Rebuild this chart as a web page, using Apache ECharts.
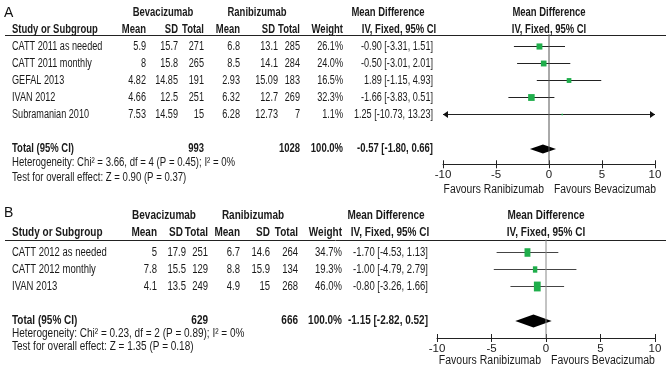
<!DOCTYPE html>
<html>
<head>
<meta charset="UTF-8">
<title>Forest plot</title>
<script src="https://cdn.jsdelivr.net/npm/echarts@6/dist/echarts.min.js"></script>
<style>
  html, body { margin: 0; padding: 0; background: #fff; }
  #main { width: 666px; height: 375px; }
</style>
</head>
<body>
<div id="main"></div>
<script>
// ---- panel A data ----
var studiesA = ['CATT 2011 as needed', 'CATT 2011 monthly', 'GEFAL 2013', 'IVAN 2012', 'Subramanian 2010'];
var bevMeanA = [5.9, 8, 4.82, 4.66, 7.53];
var bevSdA = [15.7, 15.8, 14.85, 12.5, 14.59];
var bevNA = [271, 265, 191, 251, 15];
var raniMeanA = [6.8, 8.5, 2.93, 6.32, 6.28];
var raniSdA = [13.1, 14.1, 15.09, 12.7, 12.73];
var raniNA = [285, 284, 183, 269, 7];
var weightA = [26.1, 24.0, 16.5, 32.3, 1.1];
var mdA = [-0.90, -0.50, 1.89, -1.66, 1.25];
var loA = [-3.31, -3.01, -1.15, -3.83, -10.73];
var hiA = [1.51, 2.01, 4.93, 0.51, 13.23];
var totalA = [993, 1028, -0.57, -1.80, 0.66]; // bev N, rani N, md, lo, hi
var hetA = [3.66, 4, 0.45, 0];   // chi2, df, P, I2
var testA = [0.90, 0.37];        // Z, P

// ---- panel B data ----
var studiesB = ['CATT 2012 as needed', 'CATT 2012 monthly', 'IVAN 2013'];
var bevMeanB = [5, 7.8, 4.1];
var bevSdB = [17.9, 15.5, 13.5];
var bevNB = [251, 129, 249];
var raniMeanB = [6.7, 8.8, 4.9];
var raniSdB = [14.6, 15.9, 15];
var raniNB = [264, 134, 268];
var weightB = [34.7, 19.3, 46.0];
var mdB = [-1.70, -1.00, -0.80];
var loB = [-4.53, -4.79, -3.26];
var hiB = [1.13, 2.79, 1.66];
var totalB = [629, 666, -1.15, -2.82, 0.52];
var hetB = [0.23, 2, 0.89, 0];
var testB = [1.35, 0.18];

var xTicks = [-10, 10, 5]; // min, max, interval

// no narrow font installed, so squeeze Liberation Sans horizontally
var FONT = '"Liberation Sans", Arial, sans-serif';
var GREEN = '#1fae4b';

var panels = [
  {
    letter: 'A', studies: studiesA, bevMean: bevMeanA, bevSd: bevSdA, bevN: bevNA,
    raniMean: raniMeanA, raniSd: raniSdA, raniN: raniNA, weight: weightA,
    md: mdA, lo: loA, hi: hiA, total: totalA, het: hetA, test: testA,
    g: { letterY: 13, h1: 13, h2: 30, lineY: 35, row0: 47, step: 17, totRow: 6,
         hetY: 163, testY: 178, favY: 190, left: 443, width: 212, yMin: -0.75, yMax: 6.9,
         fs: 12, sc: 0.76, bsc: 0.79, fsc: 0.86, sq: [1.15, 1.2], dh: 4.5,
         lineColor: '#222', zeroColor: '#555',
         cols: { bm: 146, bs: 178, bn: 204, rm: 240, rs: 278, rn: 300, w: 343, md: 433,
                 hbs: 178, hrs: 275, bev: 163, rani: 257, mdh: 388, ivh: 399 } }
  },
  {
    letter: 'B', studies: studiesB, bevMean: bevMeanB, bevSd: bevSdB, bevN: bevNB,
    raniMean: raniMeanB, raniSd: raniSdB, raniN: raniNB, weight: weightB,
    md: mdB, lo: loB, hi: hiB, total: totalB, het: hetB, test: testB,
    g: { letterY: 213, h1: 216, h2: 233, lineY: 240, row0: 253, step: 17, totRow: 4,
         hetY: 334, testY: 347, favY: 361, left: 437, width: 218, yMin: -0.8, yMax: 5.0,
         fs: 12.5, sc: 0.76, bsc: 0.8, fsc: 0.84, sq: [1.0, 1.45], dh: 6.5,
         lineColor: '#444', zeroColor: '#888',
         cols: { bm: 157, bs: 186, bn: 208, rm: 240, rs: 270, rn: 298, w: 342, md: 428,
                 hbs: 183, hrs: 270, bev: 164, rani: 253, mdh: 386, ivh: 390 } }
  }
];

function txt(s, x, y, size, align, bold, scale) {
  return {
    type: 'text', x: x, y: y, scaleX: scale, silent: true,
    style: {
      text: s, fill: '#1a1a1a', textAlign: align, align: align,
      textVerticalAlign: 'middle', verticalAlign: 'middle',
      font: (bold ? 'bold ' : '') + size + 'px ' + FONT
    }
  };
}
function f2(v) { return v.toFixed(2); }
function ci(m, l, h) { return f2(m) + ' [' + f2(l) + ', ' + f2(h) + ']'; }

var graphics = [];
var grids = [], xAxes = [], yAxes = [], series = [];

panels.forEach(function (p, k) {
  var g = p.g, c = g.cols;
  var zeroX = g.left + g.width / 2;
  function body(s, x, y, align) { graphics.push(txt(s, x, y, g.fs, align, false, g.sc)); }
  function head(s, x, y, align) { graphics.push(txt(s, x, y, g.fs, align, true, g.bsc)); }

  graphics.push({ type: 'text', x: 4, y: g.letterY, silent: true,
    style: { text: p.letter, fill: '#111', font: '14px ' + FONT,
             textVerticalAlign: 'middle', verticalAlign: 'middle' } });
  // header row 1
  head('Bevacizumab', c.bev, g.h1, 'center');
  head('Ranibizumab', c.rani, g.h1, 'center');
  head('Mean Difference', c.mdh, g.h1, 'center');
  head('Mean Difference', zeroX, g.h1, 'center');
  // header row 2
  head('Study or Subgroup', 12, g.h2, 'left');
  [['Mean', c.bm], ['SD', c.hbs], ['Total', c.bn], ['Mean', c.rm], ['SD', c.hrs], ['Total', c.rn], ['Weight', c.w]]
    .forEach(function (h) { head(h[0], h[1], g.h2, 'right'); });
  head('IV, Fixed, 95% CI', c.ivh, g.h2, 'center');
  head('IV, Fixed, 95% CI', zeroX, g.h2, 'center');
  graphics.push({ type: 'line', silent: true,
    shape: { x1: 5, y1: g.lineY + 0.5, x2: 666, y2: g.lineY + 0.5 },
    style: { stroke: '#222', lineWidth: 1 } });

  // study rows
  var rows = [];
  p.studies.forEach(function (s, i) {
    var y = g.row0 + i * g.step;
    body(s, 12, y, 'left');
    body(String(p.bevMean[i]), c.bm, y, 'right');
    body(String(p.bevSd[i]), c.bs, y, 'right');
    body(String(p.bevN[i]), c.bn, y, 'right');
    body(String(p.raniMean[i]), c.rm, y, 'right');
    body(String(p.raniSd[i]), c.rs, y, 'right');
    body(String(p.raniN[i]), c.rn, y, 'right');
    body(p.weight[i].toFixed(1) + '%', c.w, y, 'right');
    body(ci(p.md[i], p.lo[i], p.hi[i]), c.md, y, 'right');
    rows.push([p.md[i], i, p.lo[i], p.hi[i], p.weight[i]]);
  });
  // total row and footer
  var ty = g.row0 + g.totRow * g.step;
  head('Total (95% CI)', 12, ty, 'left');
  head(String(p.total[0]), c.bn, ty, 'right');
  head(String(p.total[1]), c.rn, ty, 'right');
  head('100.0%', c.w, ty, 'right');
  head(ci(p.total[2], p.total[3], p.total[4]), c.md, ty, 'right');
  graphics.push(txt('Heterogeneity: Chi\u00b2 = ' + f2(p.het[0]) + ', df = ' + p.het[1] +
    ' (P = ' + f2(p.het[2]) + '); I\u00b2 = ' + p.het[3] + '%', 12, g.hetY, g.fs, 'left', false, 0.8));
  graphics.push(txt('Test for overall effect: Z = ' + f2(p.test[0]) + ' (P = ' + f2(p.test[1]) + ')',
    12, g.testY, g.fs, 'left', false, 0.8));
  graphics.push(txt('Favours Ranibizumab', zeroX - 5, g.favY, g.fs, 'right', false, g.fsc));
  graphics.push(txt('Favours Bevacizumab', zeroX + 5, g.favY, g.fs, 'left', false, g.fsc));

  // plot area
  var top = g.row0 + g.yMin * g.step;
  var height = (g.yMax - g.yMin) * g.step;
  grids.push({ left: g.left, width: g.width, top: top, height: height });
  var axBase = {
    type: 'value', gridIndex: k, min: xTicks[0], max: xTicks[1], interval: xTicks[2],
    splitLine: { show: false }
  };
  // main axis: line, labels, ticks pointing down
  xAxes.push(Object.assign({}, axBase, {
    position: 'bottom',
    axisLine: { onZero: false, lineStyle: { color: '#222', width: 1 } },
    axisTick: { length: 4, lineStyle: { color: '#222' } },
    axisLabel: { color: '#1a1a1a', fontSize: 11.5, fontFamily: FONT, margin: 5 }
  }));
  // twin axis moved down onto the same line: ticks pointing up
  xAxes.push(Object.assign({}, axBase, {
    position: 'top', offset: -height,
    axisLine: { show: false, onZero: false },
    axisTick: { length: 4, lineStyle: { color: '#222' } },
    axisLabel: { show: false }
  }));
  yAxes.push({ type: 'value', gridIndex: k, inverse: true, min: g.yMin, max: g.yMax, show: false });

  var xi = k * 2;
  // zero line
  series.push({ type: 'line', xAxisIndex: xi, yAxisIndex: k, symbol: 'none', silent: true,
    data: [[0, g.yMin], [0, g.yMax]], lineStyle: { color: g.zeroColor, width: 1 } });
  // study CIs and squares
  series.push({
    type: 'custom', xAxisIndex: xi, yAxisIndex: k, data: rows, silent: true,
    renderItem: function (params, api) {
      var row = api.value(1), lo = api.value(2), hi = api.value(3);
      var a = api.coord([Math.max(lo, xTicks[0]), row]);
      var b = api.coord([Math.min(hi, xTicks[1]), row]);
      var m = api.coord([api.value(0), row]);
      var y = Math.round(a[1]) - 0.5;
      var kids = [{ type: 'line', shape: { x1: a[0], y1: y, x2: b[0], y2: y },
                    style: { stroke: g.lineColor, lineWidth: 1 } }];
      if (lo < xTicks[0]) kids.push({ type: 'polygon',
        shape: { points: [[a[0], y], [a[0] + 5, y - 3.5], [a[0] + 5, y + 3.5]] },
        style: { fill: '#111' } });
      if (hi > xTicks[1]) kids.push({ type: 'polygon',
        shape: { points: [[b[0], y], [b[0] - 5, y - 3.5], [b[0] - 5, y + 3.5]] },
        style: { fill: '#111' } });
      var r = Math.sqrt(api.value(4));
      var sw = Math.max(1.5, g.sq[0] * r), sh = Math.max(1.5, g.sq[1] * r);
      kids.push({ type: 'rect', shape: { x: m[0] - sw / 2, y: y - sh / 2, width: sw, height: sh },
                  style: { fill: GREEN } });
      return { type: 'group', children: kids };
    }
  });
  // pooled diamond
  series.push({
    type: 'custom', xAxisIndex: xi, yAxisIndex: k, silent: true,
    data: [[p.total[2], g.totRow, p.total[3], p.total[4]]],
    renderItem: function (params, api) {
      var row = api.value(1);
      var m = api.coord([api.value(0), row]);
      var l = api.coord([api.value(2), row]);
      var h = api.coord([api.value(3), row]);
      return { type: 'polygon',
        shape: { points: [[l[0], m[1]], [m[0], m[1] - g.dh], [h[0], m[1]], [m[0], m[1] + g.dh]] },
        style: { fill: '#000' } };
    }
  });
});

var myChart = echarts.init(document.getElementById('main'));
myChart.setOption({
  backgroundColor: '#fff',
  animation: false,
  grid: grids,
  xAxis: xAxes,
  yAxis: yAxes,
  series: series,
  graphic: { elements: graphics }
});
</script>
</body>
</html>
